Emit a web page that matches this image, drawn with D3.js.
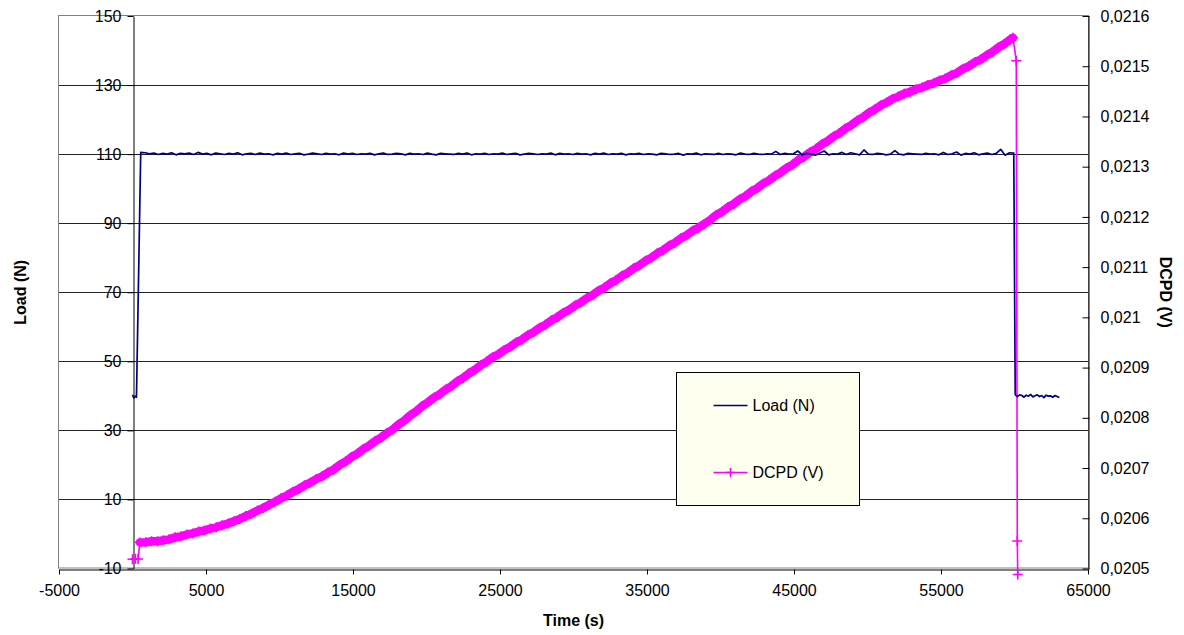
<!DOCTYPE html>
<html>
<head>
<meta charset="utf-8">
<script src="https://cdn.jsdelivr.net/npm/d3@7"></script>
<style>
  html, body { margin: 0; padding: 0; background: #fff; }
  svg { display: block; }
  text { font-family: "Liberation Sans", Arial, sans-serif; fill: #000; }
</style>
</head>
<body>
<svg id="chart" width="1184" height="635"></svg>
<script>
// ---- Axis ticks ----
const timeTicks = [-5000, 5000, 15000, 25000, 35000, 45000, 55000, 65000];
const loadTicks = [-10, 10, 30, 50, 70, 90, 110, 130, 150];
const dcpdTicks = [0.0205, 0.0206, 0.0207, 0.0208, 0.0209, 0.0210, 0.0211, 0.0212, 0.0213, 0.0214, 0.0215, 0.0216];

// ---- Load (N) ----
// pre-load, step up
const loadStart = [[0, 40.3], [90, 39.4], [180, 39.9], [270, 39.6], [560, 110.5]];
// hold at 110 N, logged every 300 s from 860 s
const loadHoldT0 = 860, loadHoldDt = 300;
const loadHold = [
  110.4, 110.1, 110.3, 109.9, 110.2, 110.0, 110.4, 109.8, 110.2, 110.1,
  110.3, 109.9, 110.5, 110.0, 110.2, 109.8, 110.3, 110.1, 109.9, 110.2,
  110.0, 110.4, 109.8, 110.1, 110.2, 109.9, 110.3, 110.0, 110.1, 109.8,
  110.2, 110.0, 110.3, 109.9, 110.1, 110.2, 109.8, 110.0, 110.3, 110.1,
  109.9, 110.2, 110.0, 110.1, 109.8, 110.3, 110.0, 110.2, 109.9, 110.1,
  110.0, 110.2, 109.8, 110.1, 110.3, 109.9, 110.0, 110.2, 110.1, 109.8,
  110.2, 110.0, 110.1, 109.9, 110.3, 110.0, 109.8, 110.2, 110.1, 110.0,
  109.9, 110.2, 110.0, 110.3, 109.8, 110.1, 110.0, 110.2, 109.9, 110.1,
  110.0, 110.3, 109.9, 110.1, 110.2, 109.8, 110.0, 110.2, 110.1, 109.9,
  110.1, 110.0, 110.3, 109.8, 110.2, 110.0, 110.1, 109.9, 110.2, 110.0,
  110.1, 109.8, 110.2, 110.0, 110.3, 109.9, 110.1, 110.0, 110.2, 109.8,
  110.1, 110.0, 110.2, 109.9, 110.1, 110.0, 109.8, 110.2, 110.1, 109.9,
  110.0, 110.2, 109.7, 110.1, 110.0, 110.3, 109.8, 110.1, 110.0, 109.9,
  110.2, 109.9, 110.1, 110.0, 109.8, 110.3, 110.0, 109.9, 110.2, 110.0,
  109.9, 110.1, 110.0, 110.8, 109.9, 110.2, 110.0, 110.1, 110.9, 109.8,
  110.2, 110.0, 109.7, 110.3, 110.9, 109.8, 110.1, 110.0, 110.5, 109.9,
  110.4, 110.1, 109.8, 111.2, 110.0, 109.9, 110.2, 110.1, 109.8, 110.0,
  111.0, 110.0, 109.8, 110.2, 110.1, 110.0, 109.9, 110.2, 110.0, 110.1,
  109.8, 110.5, 109.9, 110.1, 110.6, 109.7, 110.2, 110.0, 110.4, 109.8,
  110.1, 110.3, 109.9, 110.2, 111.4, 109.7, 110.4
];
// unloading
const loadEnd = [[59950, 110.3], [60050, 40.3]];
// after unloading, logged every 150 s from 60200 s
const loadAfterT0 = 60200, loadAfterDt = 150;
const loadAfter = [
  39.8, 40.3, 40.1, 39.6, 40.2, 39.9, 40.4, 39.7, 40.0, 40.3,
  39.8, 40.1, 39.5, 40.2, 39.9, 40.0, 39.6, 40.1, 39.8, 39.5
];

// ---- DCPD (V) ----
const dcpdStart = [[0, 0.0205185], [200, 0.0205195], [380, 0.0205190]];
// potential drop during the hold, logged every 400 s from 500 s
const dcpdRampT0 = 500, dcpdRampDt = 400;
const dcpdRamp = [
  0.0205520, 0.0205524, 0.0205541, 0.0205543, 0.0205561, 0.0205580, 0.0205621, 0.0205640, 0.0205678, 0.0205699,
  0.0205737, 0.0205756, 0.0205795, 0.0205820, 0.0205862, 0.0205895, 0.0205942, 0.0205986, 0.0206043, 0.0206092,
  0.0206153, 0.0206206, 0.0206271, 0.0206328, 0.0206398, 0.0206452, 0.0206526, 0.0206580, 0.0206655, 0.0206708,
  0.0206782, 0.0206836, 0.0206910, 0.0206972, 0.0207063, 0.0207130, 0.0207220, 0.0207287, 0.0207378, 0.0207446,
  0.0207537, 0.0207604, 0.0207695, 0.0207765, 0.0207868, 0.0207947, 0.0208050, 0.0208129, 0.0208233, 0.0208309,
  0.0208402, 0.0208470, 0.0208563, 0.0208633, 0.0208725, 0.0208794, 0.0208887, 0.0208957, 0.0209050, 0.0209119,
  0.0209205, 0.0209266, 0.0209352, 0.0209413, 0.0209499, 0.0209561, 0.0209646, 0.0209708, 0.0209794, 0.0209855,
  0.0209941, 0.0210002, 0.0210088, 0.0210149, 0.0210235, 0.0210296, 0.0210382, 0.0210443, 0.0210529, 0.0210592,
  0.0210678, 0.0210741, 0.0210827, 0.0210890, 0.0210977, 0.0211039, 0.0211126, 0.0211188, 0.0211275, 0.0211338,
  0.0211424, 0.0211487, 0.0211573, 0.0211636, 0.0211723, 0.0211785, 0.0211860, 0.0211940, 0.0212036, 0.0212101,
  0.0212192, 0.0212258, 0.0212348, 0.0212415, 0.0212505, 0.0212571, 0.0212662, 0.0212728, 0.0212818, 0.0212885,
  0.0212975, 0.0213041, 0.0213132, 0.0213198, 0.0213288, 0.0213355, 0.0213446, 0.0213512, 0.0213603, 0.0213669,
  0.0213760, 0.0213827, 0.0213917, 0.0213984, 0.0214074, 0.0214137, 0.0214220, 0.0214277, 0.0214350, 0.0214395,
  0.0214455, 0.0214490, 0.0214543, 0.0214576, 0.0214627, 0.0214660, 0.0214717, 0.0214757, 0.0214820, 0.0214868,
  0.0214948, 0.0215002, 0.0215080, 0.0215134, 0.0215216, 0.0215283, 0.0215375, 0.0215442, 0.0215532
];
const dcpdEnd = [[59900, 0.0215566], [60120, 0.0215110], [60190, 0.0205547], [60220, 0.0204881]];

// ---- Assemble point lists ----
const loadPts = loadStart
  .concat(loadHold.map((v, i) => [loadHoldT0 + i * loadHoldDt, v]))
  .concat(loadEnd)
  .concat(loadAfter.map((v, i) => [loadAfterT0 + i * loadAfterDt, v]));
const rampPts = dcpdRamp.map((v, i) => [dcpdRampT0 + i * dcpdRampDt, v]);
const dcpdPts = dcpdStart.concat(rampPts).concat(dcpdEnd);
const bandPts = rampPts.concat([dcpdEnd[0]]);

// ---- Layout ----
const svg = d3.select("#chart");
const plotLeft = 59, plotRight = 1088, plotTop = 16, plotBottom = 568.5;
const x = d3.scaleLinear().domain([-5000, 65000]).range([plotLeft, plotRight]);
const yLoad = d3.scaleLinear().domain([-10, 150]).range([plotBottom, plotTop]);
const yDcpd = d3.scaleLinear().domain([0.0205, 0.0216]).range([plotBottom, plotTop]);

const LOAD_COLOR = "#000080";
const DCPD_COLOR = "#ff00ff";

// plain number labels with a hyphen for negatives and a decimal comma
const plainNum = d => String(+d.toFixed(4)).replace(".", ",");

// plot area frame
svg.append("rect")
  .attr("x", plotLeft - 0.5).attr("y", plotTop - 0.5)
  .attr("width", plotRight - plotLeft + 1).attr("height", plotBottom - plotTop)
  .attr("fill", "#fff").attr("stroke", "#808080").attr("stroke-width", 1);

// horizontal gridlines at the load ticks
svg.append("g").selectAll("line")
  .data(loadTicks.filter(d => d !== -10 && d !== 150))
  .join("line")
  .attr("x1", plotLeft).attr("x2", plotRight)
  .attr("y1", d => Math.round(yLoad(d)) + 0.5).attr("y2", d => Math.round(yLoad(d)) + 0.5)
  .attr("stroke", "#222").attr("stroke-width", 1);

// ---- Axes ----
const fontSize = "16px";

// time axis along the bottom
const xAxis = svg.append("g")
  .attr("transform", `translate(0,${Math.round(plotBottom) + 0.5})`)
  .call(d3.axisBottom(x).tickValues(timeTicks).tickFormat(plainNum).tickSizeInner(5).tickSizeOuter(0).tickPadding(10));

// load axis crossing the time axis at t = 0
const yAxisL = svg.append("g")
  .attr("transform", `translate(${Math.round(x(0)) + 0.5},0)`)
  .call(d3.axisLeft(yLoad).tickValues(loadTicks).tickFormat(plainNum).tickSizeInner(6).tickSizeOuter(0).tickPadding(6));

// DCPD axis on the right
const yAxisR = svg.append("g")
  .attr("transform", `translate(${Math.round(plotRight) + 0.5},0)`)
  .call(d3.axisRight(yDcpd).tickValues(dcpdTicks).tickFormat(plainNum)
    .tickSizeInner(-6).tickSizeOuter(0).tickPadding(12));

[xAxis, yAxisL, yAxisR].forEach(g => {
  g.select(".domain").attr("stroke", "#000").attr("stroke-width", 1);
  g.selectAll(".tick line").attr("stroke", "#000");
  g.selectAll("text").attr("font-size", fontSize)
    .attr("font-family", '"Liberation Sans", Arial, sans-serif').attr("fill", "#000");
});
yAxisR.selectAll(".tick line").attr("x1", 1);

// ---- Series ----
const line = d3.line().x(d => x(d[0]));

// DCPD: dense band of readings plus markers
svg.append("path")
  .datum(bandPts)
  .attr("d", line.y(d => yDcpd(d[1])))
  .attr("fill", "none").attr("stroke", DCPD_COLOR)
  .attr("stroke-width", 8.5).attr("stroke-linejoin", "round").attr("stroke-linecap", "round");

svg.append("path")
  .datum(dcpdPts)
  .attr("d", line.y(d => yDcpd(d[1])))
  .attr("fill", "none").attr("stroke", DCPD_COLOR).attr("stroke-width", 1.6);

const plusPath = r => `M${-r},0H${r}M0,${-r}V${r}`;
svg.append("g").selectAll("path")
  .data(dcpdPts)
  .join("path")
  .attr("transform", d => `translate(${x(d[0])},${yDcpd(d[1])})`)
  .attr("d", plusPath(5))
  .attr("stroke", DCPD_COLOR).attr("stroke-width", 1.6).attr("fill", "none");

// Load
svg.append("path")
  .datum(loadPts)
  .attr("d", line.y(d => yLoad(d[1])))
  .attr("fill", "none").attr("stroke", LOAD_COLOR)
  .attr("stroke-width", 1.7).attr("stroke-linejoin", "round");

// ---- Axis titles ----
svg.append("text")
  .attr("x", x(30000)).attr("y", 626)
  .attr("text-anchor", "middle").attr("font-size", fontSize).attr("font-weight", "bold")
  .text("Time (s)");

svg.append("text")
  .attr("transform", `translate(26,${(plotTop + plotBottom) / 2}) rotate(-90)`)
  .attr("text-anchor", "middle").attr("font-size", fontSize).attr("font-weight", "bold")
  .text("Load (N)");

svg.append("text")
  .attr("transform", `translate(1160,${(plotTop + plotBottom) / 2}) rotate(90)`)
  .attr("text-anchor", "middle").attr("font-size", fontSize).attr("font-weight", "bold")
  .text("DCPD (V)");

// ---- Legend ----
const legend = svg.append("g").attr("transform", "translate(676.5,372.5)");
legend.append("rect")
  .attr("width", 183).attr("height", 133)
  .attr("fill", "#fffff0").attr("stroke", "#000").attr("stroke-width", 1);

const legendItems = [
  { label: "Load (N)", color: LOAD_COLOR, marker: false, y: 33 },
  { label: "DCPD (V)", color: DCPD_COLOR, marker: true, y: 100 }
];
legendItems.forEach(item => {
  legend.append("line")
    .attr("x1", 37).attr("x2", 71).attr("y1", item.y).attr("y2", item.y)
    .attr("stroke", item.color).attr("stroke-width", 1.6);
  if (item.marker) {
    legend.append("path")
      .attr("transform", `translate(54,${item.y})`)
      .attr("d", plusPath(4.5))
      .attr("stroke", item.color).attr("stroke-width", 1.6);
  }
  legend.append("text")
    .attr("x", 76).attr("y", item.y).attr("dy", "0.35em")
    .attr("font-size", fontSize)
    .text(item.label);
});
</script>
</body>
</html>
